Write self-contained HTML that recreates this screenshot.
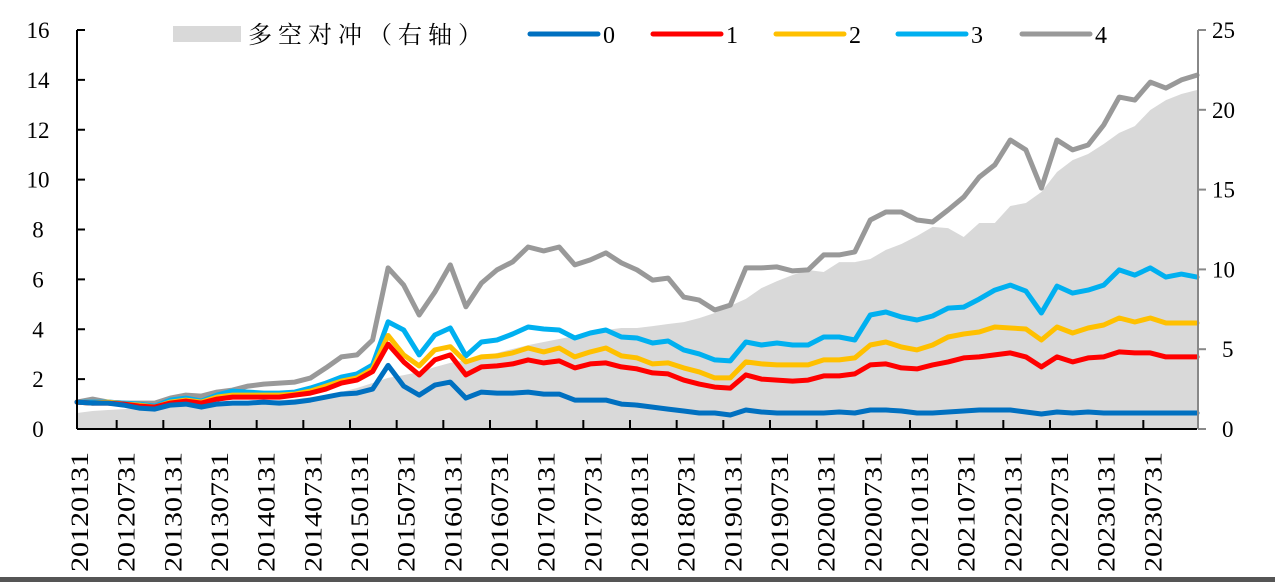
<!DOCTYPE html>
<html><head><meta charset="utf-8">
<style>
html,body{margin:0;padding:0;background:#fff;}
svg{display:block;}
text{font-family:"Liberation Serif","Noto Serif CJK SC",serif;}
</style></head>
<body>
<svg id="chart" width="1275" height="582" viewBox="0 0 1275 582" xmlns="http://www.w3.org/2000/svg">
<g id="fillLayer"></g>
<g id="lineLayer"></g>
<g id="axisLayer"></g>
<g id="legend"></g>
<rect x="0" y="577" width="1275" height="5" fill="#555"/>
</svg>
<script>
const startYear = 2012;
const dateLabels = ["20120131","20120731","20130131","20130731","20140131","20140731","20150131","20150731","20160131","20160731","20170131","20170731","20180131","20180731","20190131","20190731","20200131","20200731","20210131","20210731","20220131","20220731","20230131","20230731"];
const leftTicks = [0,2,4,6,8,10,12,14,16];
const rightTicks = [0,5,10,15,20,25];
const seriesNames = ["0","1","2","3","4"];
const hedge = [1.0,1.13,1.19,1.25,1.3,1.3,1.38,1.44,1.5,1.57,1.63,1.69,1.75,1.82,1.88,2.0,2.13,2.32,2.57,2.88,3.2,3.38,3.57,3.88,4.14,4.32,4.51,4.76,5.01,5.26,5.45,5.64,5.83,6.02,6.2,6.33,6.33,6.45,6.58,6.7,6.95,7.27,7.71,8.15,8.83,9.27,9.65,9.96,9.84,10.46,10.46,10.65,11.22,11.59,12.09,12.66,12.59,12.03,12.91,12.91,13.97,14.16,14.85,16.1,16.85,17.23,17.86,18.55,18.98,19.99,20.61,20.99,21.24];
const s0 = [1.08,1.04,1.04,0.96,0.84,0.8,0.96,1.0,0.88,1.0,1.04,1.04,1.08,1.04,1.08,1.16,1.28,1.4,1.44,1.6,2.55,1.72,1.36,1.76,1.88,1.24,1.48,1.44,1.44,1.48,1.4,1.4,1.16,1.16,1.16,1.0,0.96,0.88,0.8,0.72,0.64,0.64,0.56,0.76,0.68,0.64,0.64,0.64,0.64,0.68,0.64,0.76,0.76,0.72,0.64,0.64,0.68,0.72,0.76,0.76,0.76,0.68,0.6,0.68,0.64,0.68,0.64,0.64,0.64,0.64,0.64,0.64,0.64];
const s1 = [1.08,1.04,1.04,1.0,0.92,0.88,1.04,1.12,1.04,1.2,1.28,1.28,1.28,1.28,1.36,1.44,1.6,1.84,1.96,2.3,3.4,2.69,2.17,2.77,2.97,2.17,2.49,2.53,2.61,2.77,2.65,2.73,2.45,2.61,2.65,2.49,2.41,2.25,2.21,1.96,1.8,1.68,1.64,2.17,2.0,1.96,1.92,1.96,2.13,2.13,2.21,2.57,2.61,2.45,2.41,2.57,2.69,2.85,2.89,2.97,3.05,2.89,2.49,2.89,2.69,2.85,2.89,3.09,3.05,3.05,2.89,2.89,2.89];
const s2 = [1.08,1.04,1.08,1.0,0.96,0.88,1.08,1.16,1.08,1.28,1.36,1.36,1.36,1.36,1.4,1.52,1.72,1.92,2.05,2.4,3.75,2.97,2.53,3.17,3.3,2.69,2.89,2.93,3.05,3.25,3.09,3.25,2.89,3.09,3.25,2.93,2.85,2.61,2.65,2.45,2.29,2.05,2.05,2.69,2.61,2.57,2.57,2.57,2.77,2.77,2.85,3.37,3.49,3.29,3.17,3.37,3.69,3.81,3.89,4.09,4.05,4.01,3.57,4.09,3.85,4.05,4.17,4.45,4.29,4.45,4.25,4.25,4.25];
const s3 = [1.08,1.08,1.08,1.04,1.0,0.92,1.16,1.24,1.12,1.36,1.52,1.48,1.44,1.44,1.48,1.64,1.84,2.08,2.21,2.57,4.3,3.97,2.97,3.77,4.05,2.93,3.49,3.57,3.81,4.09,4.01,3.97,3.65,3.85,3.97,3.69,3.65,3.45,3.53,3.17,3.01,2.77,2.73,3.49,3.37,3.45,3.37,3.37,3.69,3.69,3.57,4.57,4.69,4.49,4.37,4.53,4.85,4.89,5.21,5.57,5.77,5.53,4.65,5.73,5.45,5.57,5.77,6.38,6.17,6.46,6.09,6.21,6.09];
const s4 = [1.08,1.2,1.08,1.04,1.04,1.04,1.24,1.36,1.32,1.48,1.56,1.72,1.8,1.84,1.88,2.04,2.45,2.89,2.97,3.57,6.46,5.77,4.57,5.49,6.58,4.9,5.85,6.38,6.7,7.3,7.14,7.3,6.58,6.78,7.06,6.66,6.38,5.97,6.05,5.29,5.17,4.77,4.97,6.46,6.46,6.5,6.34,6.38,6.98,6.98,7.1,8.38,8.7,8.7,8.38,8.3,8.78,9.3,10.1,10.59,11.59,11.19,9.66,11.59,11.19,11.39,12.19,13.31,13.19,13.91,13.67,14.0,14.19];

const NS = "http://www.w3.org/2000/svg";
const X0 = 77, X1 = 1197, YB = 429, YT = 30;
const nPts = hedge.length;
function xAt(i){ return X0 + i*(X1-X0)/(nPts-1); }
function yL(v){ return YB - v*(YB-YT)/16; }
function yR(v){ return YB - v*(YB-YT)/25; }
function mk(tag, attrs, parent){ const e=document.createElementNS(NS,tag); for(const k in attrs) e.setAttribute(k,attrs[k]); parent.appendChild(e); return e; }

// area
const fillLayer=document.getElementById('fillLayer');
let d = "M"+xAt(0)+","+YB;
hedge.forEach((v,i)=>{ d += " L"+xAt(i).toFixed(1)+","+yR(v).toFixed(1); });
d += " L"+xAt(nPts-1)+","+YB+" Z";
const area = mk('path',{d:d,fill:'#d9d9d9'},fillLayer);



// lines
const colors = ["#0070C0","#FF0000","#FFC000","#00B0F0","#999999"];
const allSeries = [s0,s1,s2,s3,s4];
const lineLayer=document.getElementById('lineLayer');
[4,3,2,1,0].forEach(si=>{
  const pts = allSeries[si].map((v,i)=>xAt(i).toFixed(1)+","+yL(v).toFixed(1)).join(" ");
  const pl = mk('polyline',{points:pts,fill:'none',stroke:colors[si],'stroke-width':5,'stroke-linejoin':'round','stroke-linecap':'round'},lineLayer);
  
  
});

// axes
const ax=document.getElementById('axisLayer');
const la = mk('line',{x1:X0,y1:YT,x2:X0,y2:YB,stroke:'#000','stroke-width':2},ax);


const ba = mk('line',{x1:X0,y1:YB,x2:X1,y2:YB,stroke:'#000','stroke-width':2},ax);


const ra = mk('line',{x1:X1+1,y1:YT,x2:X1+1,y2:YB,stroke:'#888','stroke-width':2},ax);


leftTicks.forEach(t=>{
  const y=yL(t);
  const tk = mk('line',{x1:X0,y1:y,x2:X0+8,y2:y,stroke:'#000','stroke-width':2},ax);
  
  
  const tx = mk('text',{x:38,y:y+8,'text-anchor':'middle','font-size':23,fill:'#000'},ax);
  tx.textContent=t;
  
  
});
rightTicks.forEach(t=>{
  const y=yR(t);
  const tk = mk('line',{x1:X1+1,y1:y,x2:X1+9,y2:y,stroke:'#888','stroke-width':2},ax);
  
  
  const tx = mk('text',{x:t<10?1222:1212,y:y+8,'text-anchor':'start','font-size':23,fill:'#000'},ax);
  tx.textContent=t;
  
  
});
const step6 = 6*(X1-X0)/((nPts-1)*2);
for(let j=1;j*step6+X0-1<=X1-10;j++){
  const x = X0 + j*step6 - 0.5*(X1-X0)/((nPts-1)*2)*1.8;
  const tk = mk('line',{x1:x,y1:YB,x2:x,y2:YB-9,stroke:'#000','stroke-width':2},ax);
  
  
}
dateLabels.forEach((lab,j)=>{
  const cx = 81 + j*step6 + 7;
  const tx = mk('text',{x:0,y:0,'font-size':25,fill:'#000',transform:'translate('+cx+',572) rotate(-90)',textLength:120,lengthAdjust:'spacingAndGlyphs'},ax);
  tx.textContent=lab;
  
  
});

// legend
const lg=document.getElementById('legend');
const lr = mk('rect',{x:173,y:26,width:68,height:16,fill:'#d9d9d9'},lg);


const lt = mk('text',{x:248,y:43,'font-size':24,fill:'#000','letter-spacing':6,'font-family':'"Noto Serif CJK SC","Liberation Serif",serif'},lg);
lt.textContent='多空对冲（右轴）';


const legX = [530,653,776,898,1022];
seriesNames.forEach((n,i)=>{
  const l = mk('line',{x1:legX[i],y1:34,x2:legX[i]+68,y2:34,stroke:colors[i],'stroke-width':5,'stroke-linecap':'round'},lg);
  
  
  const t = mk('text',{x:legX[i]+73,y:43,'font-size':24,fill:'#000'},lg);
  t.textContent=n;
  
  
});
</script>
</body></html>
